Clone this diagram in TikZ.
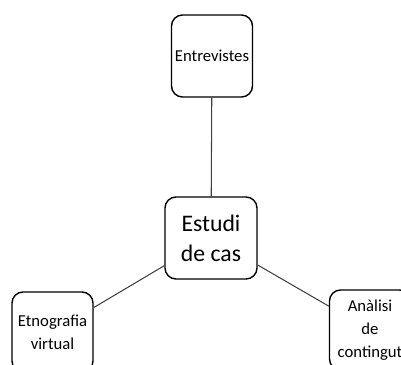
\documentclass[tikz,border=0pt]{standalone}
\usepackage{fontspec}
\setmainfont{Carlito}
\usepackage{tikz}
\usetikzlibrary{calc,positioning}
\tikzset{caixa/.style={draw,rounded corners=.22cm,line width=.8pt,minimum width=1.62cm,minimum height=1.6cm,align=center,inner sep=1pt,font=\fontsize{9.5}{13}\selectfont}}

\begin{document}
\begin{tikzpicture}
\useasboundingbox (0,0) rectangle (8.02,7.3); \clip (0,0) rectangle (8.02,7.3);
\node[caixa, minimum width=1.84cm, minimum height=1.64cm, font=\fontsize{13.5}{17}\selectfont] (estudi) at (4.22,2.54) {Estudi\\de cas};
\node[caixa, minimum height=1.64cm] (entrev) at (4.24,6.18) {Entrevistes};
\node[caixa] (etno) at (1.05,0.66) {Etnografia\\virtual};
\node[caixa] (analisi) at (7.4,0.7) {Anàlisi\\de\\contingut};

\draw[line width=.6pt, black!75] (entrev) -- (estudi);
\draw[line width=.6pt, black!75] (estudi) -- (etno);
\draw[line width=.6pt, black!75] (estudi) -- (analisi);
\end{tikzpicture}
\end{document}
